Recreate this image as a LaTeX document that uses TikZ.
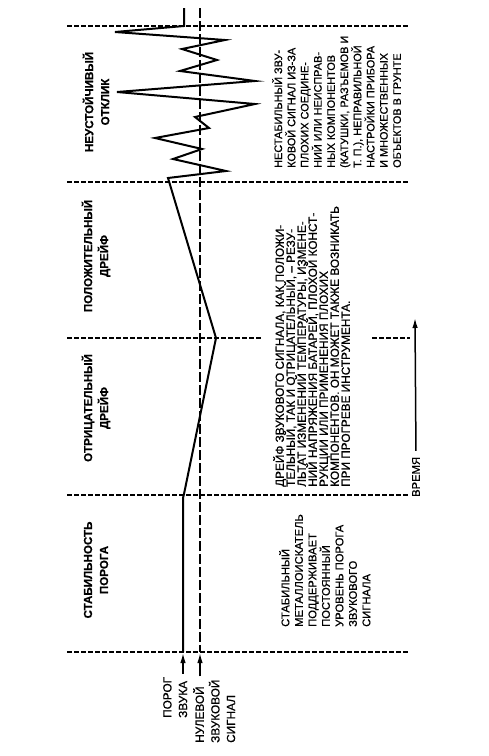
\documentclass[tikz,border=0pt]{standalone}
\usepackage{fontspec}
\setmainfont{Liberation Sans}[FakeBold=0.6]
\usetikzlibrary{arrows.meta}

\begin{document}
\begin{tikzpicture}[x=1pt, y=-1pt, >={Latex[length=10pt,width=5.5pt]},
  sep/.style={line width=1.2pt, dash pattern=on 4.5pt off 2.5pt},
  zero/.style={line width=1.2pt, dash pattern=on 10pt off 3pt},
  sig/.style={line width=2pt, line join=miter},
  arr/.style={->, line width=1.5pt},
  ttl/.style={rotate=90, align=center, font=\bfseries\fontsize{11.6}{16}\selectfont},
  txt/.style={rotate=90, align=left, anchor=north west, inner sep=0pt,
    execute at begin node={\lineskiplimit=-20pt}},
  lbl/.style={txt, font=\fontsize{11.8}{15.6}\selectfont}]
\useasboundingbox (0,0) rectangle (488,756);
\foreach \y in {26,182,495,652}
  \draw[sep] (67,\y) -- (410,\y);
\draw[sep] (67,338) -- (262,338);
\draw[sep] (372,338) -- (410,338);
\draw[zero] (200,8) -- (200,652);
\draw[sig] (184,8) -- (184,26) -- (115,32) -- (225,40) -- (182,49) -- (217,60) -- (180,71)
  -- (255,81) -- (117,92) -- (255,104) -- (195,117) -- (209,128) -- (155,138) -- (202,149)
  -- (173,159) -- (226,171) -- (168,178) -- (216,338) -- (184,494) -- (183,498) -- (183,652);
\node[ttl] (stab) at (96,570) {СТАБИЛЬНОСТЬ\\ПОРОГА};
\node[ttl] (neg) at (96,408) {ОТРИЦАТЕЛЬНЫЙ\\ДРЕЙФ};
\node[ttl] (pos) at (96,256) {ПОЛОЖИТЕЛЬНЫЙ\\ДРЕЙФ};
\node[ttl] (unst) at (96,102) {НЕУСТОЙЧИВЫЙ\\ОТКЛИК};
\node[txt, font=\fontsize{11.2}{13.5}\selectfont] (stabtxt) at (279,627)
  {СТАБИЛЬНЫЙ\\МЕТАЛЛОИСКАТЕЛЬ\\ПОДДЕРЖИВАЕТ\\ПОСТОЯННЫЙ\\УРОВЕНЬ ПОРОГА\\ЗВУКОВОГО\\СИГНАЛА};
\node[txt, font=\fontsize{11.8}{11}\selectfont] (drifttxt) at (273,487)
  {ДРЕЙФ ЗВУКОВОГО СИГНАЛА, КАК ПОЛОЖИ-\\ТЕЛЬНЫЙ, ТАК И ОТРИЦАТЕЛЬНЫЙ, – РЕЗУ-\\ЛЬТАТ ИЗМЕНЕНИЙ ТЕМПЕРАТУРЫ, ИЗМЕНЕ-\\НИЙ НАПРЯЖЕНИЯ БАТАРЕЙ, ПЛОХОЙ КОНСТ-\\РУКЦИИ ИЛИ ПРИМЕНЕНИЯ ПЛОХИХ\\КОМПОНЕНТОВ. ОН МОЖЕТ ТАКЖЕ ВОЗНИКАТЬ\\ПРИ ПРОГРЕВЕ ИНСТРУМЕНТА.};
\node[txt, font=\fontsize{10.9}{13.2}\selectfont] (unsttxt) at (272,168)
  {НЕСТАБИЛЬНЫЙ ЗВУ-\\КОВОЙ СИГНАЛ ИЗ-ЗА\\ПЛОХИХ СОЕДИНЕ-\\НИЙ ИЛИ НЕИСПРАВ-\\НЫХ КОМПОНЕНТОВ\\(КАТУШКИ, РАЗЪЕМОВ И\\Т. П.), НЕПРАВИЛЬНОЙ\\НАСТРОЙКИ ПРИБОРА\\И МНОЖЕСТВЕННЫХ\\ОБЪЕКТОВ В ГРУНТЕ};
\node[lbl] (thrlbl) at (163,718) {ПОРОГ\\ЗВУКА};
\node[lbl] (zerolbl) at (193,743) {НУЛЕВОЙ\\ЗВУКОВОЙ\\СИГНАЛ};
\node[lbl, anchor=west, font=\fontsize{11.2}{13}\selectfont] (timelbl) at (416,497) {ВРЕМЯ};
\coordinate (thrtip) at (183,653);
\coordinate (zerotip) at (200,653);
\coordinate (timetip) at (415,318);
\draw[arr, shorten <=3pt] (thrlbl.east -| thrtip) -- (thrtip);
\draw[arr, shorten <=3pt] (zerolbl.east -| zerotip) -- (zerotip);
\draw[arr, shorten <=6pt] (timelbl.east) -- (timetip);
\end{tikzpicture}
\end{document}
